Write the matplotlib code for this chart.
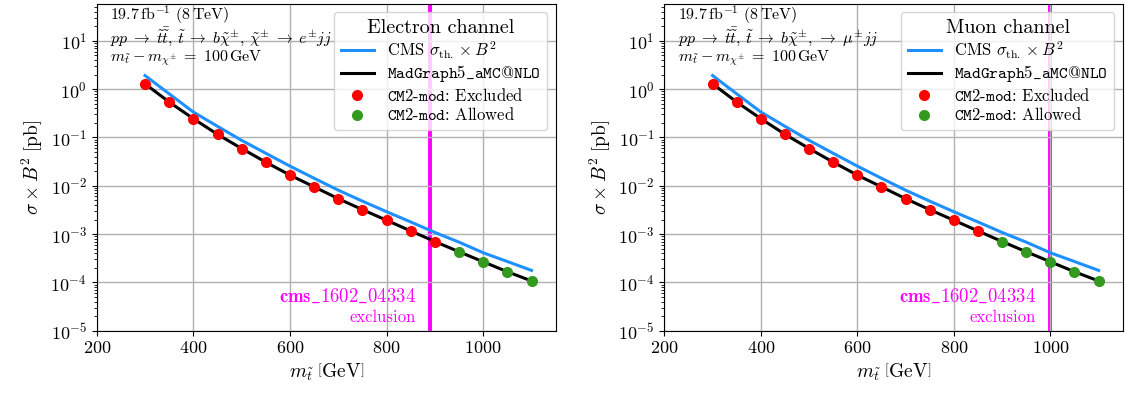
import matplotlib
matplotlib.use("Agg")
import matplotlib.pyplot as plt
import matplotlib.transforms as mtransforms
from matplotlib.lines import Line2D
import numpy as np

plt.rcParams['font.family'] = 'serif'
plt.rcParams['font.serif'] = ['cmr10']
plt.rcParams['mathtext.fontset'] = 'cm'
plt.rcParams['axes.formatter.use_mathtext'] = True
plt.rcParams['axes.unicode_minus'] = False

# stop masses [GeV]
masses = [300, 350, 400, 450, 500, 550, 600, 650, 700, 750, 800, 850, 900, 950, 1000, 1050, 1100]
# MadGraph5_aMC@NLO sigma x B^2 [pb]
mg5 = [1.29, 0.54, 0.245, 0.116, 0.059, 0.0308, 0.0166, 0.0095, 0.0054, 0.0032,
       0.00193, 0.00116, 0.0007, 0.00043, 0.000267, 0.000166, 0.000107]
# CMS theory sigma x B^2 [pb]
cms_th = [1.91, 0.80, 0.336, 0.17, 0.087, 0.047, 0.0255, 0.0143, 0.0081, 0.0048,
          0.0029, 0.00178, 0.00108, 0.00068, 0.000410, 0.000270, 0.000177]

channels = ['Electron channel', 'Muon channel']
processes = [r'$pp \;\to\; \tilde{t}\bar{\tilde{t}},\, \tilde{t} \;\to\; b\tilde{\chi}^{\pm},\, \tilde{\chi}^{\pm} \;\to\; e^{\pm}jj$',
             r'$pp \;\to\; \tilde{t}\bar{\tilde{t}},\, \tilde{t} \;\to\; b\tilde{\chi}^{\pm},\, \to\; \mu^{\pm}jj$']
exclusion_limit = [890, 1000]
# heaviest CM2-mod point that is excluded in each channel
last_excluded = [900, 850]

fig = plt.figure(figsize=(11.26, 4), dpi=100)
axes = [fig.add_axes([0.0859, 0.1733, 0.4076, 0.8168]),
        fig.add_axes([0.5900, 0.1733, 0.4071, 0.8168])]

m = np.array(masses)
y = np.array(mg5)

for ax, chan, proc, lim, last in zip(axes, channels, processes, exclusion_limit, last_excluded):
    ax.set_yscale('log')
    ax.grid(True, color='#b0b0b0', lw=1)
    ax.set_axisbelow(True)
    ax.axvline(lim, color='#ff00ff', lw=2.8, zorder=0.3)

    ax.plot(masses, cms_th, color='#1e90ff', lw=2.2, zorder=3)
    ax.plot(masses, mg5, color='black', lw=2.2, zorder=3)
    excl = m <= last
    ax.plot(m[excl], y[excl], 'o', color='red', ms=7, zorder=4)
    ax.plot(m[~excl], y[~excl], 'o', color='#339a1f', ms=7, zorder=4)

    ax.set_xlim(200, 1150)
    ax.set_ylim(1e-5, 58)
    ax.set_xticks([200, 400, 600, 800, 1000])
    ax.tick_params(labelsize=13)
    ax.set_xlabel(r'$m_{\tilde{t}}\ \left[\mathrm{GeV}\right]$', fontsize=14)
    ax.set_ylabel(r'$\sigma \times B^2\ \left[\mathrm{pb}\right]$', fontsize=14)

    ax.text(0.03, 0.966, r'$19.7\,\mathrm{fb}^{-1}$ ($8\,\mathrm{TeV}$)', transform=ax.transAxes,
            fontsize=11.5, va='center')
    ax.text(0.03, 0.899, proc, transform=ax.transAxes, fontsize=11.5, va='center')
    ax.text(0.03, 0.835, r'$m_{\tilde{t}} \:-\: m_{\chi^{\pm}} \;=\; 100\,\mathrm{GeV}$', transform=ax.transAxes,
            fontsize=11.5, va='center')

    trans = mtransforms.blended_transform_factory(ax.transData, ax.transAxes)
    ax.text(lim - 30, 0.103, r'$\mathbf{cms\_1602\_04334}$', transform=trans, color='#ff00ff',
            fontsize=13.5, ha='right', va='center')
    ax.text(lim - 30, 0.042, 'exclusion', transform=trans, color='#ff00ff',
            fontsize=12, ha='right', va='center')

    handles = [Line2D([], [], color='#1e90ff', lw=2.2),
               Line2D([], [], color='black', lw=2.2),
               Line2D([], [], ls='none', marker='o', color='red', ms=7),
               Line2D([], [], ls='none', marker='o', color='#339a1f', ms=7)]
    labels = [r'CMS $\sigma_{\mathrm{th.}} \times B^2$',
              r'$\mathtt{MadGraph5\_aMC@NLO}$',
              r'$\mathtt{CM2}$-$\mathtt{mod}$: Excluded',
              r'$\mathtt{CM2}$-$\mathtt{mod}$: Allowed']
    leg = ax.legend(handles, labels, loc='upper right', title=chan, fontsize=12,
                    title_fontsize=14.5, framealpha=0.8, labelspacing=0.15,
                    borderaxespad=0.5)
    leg.set_zorder(5)

fig.savefig('out.png', dpi=100)
